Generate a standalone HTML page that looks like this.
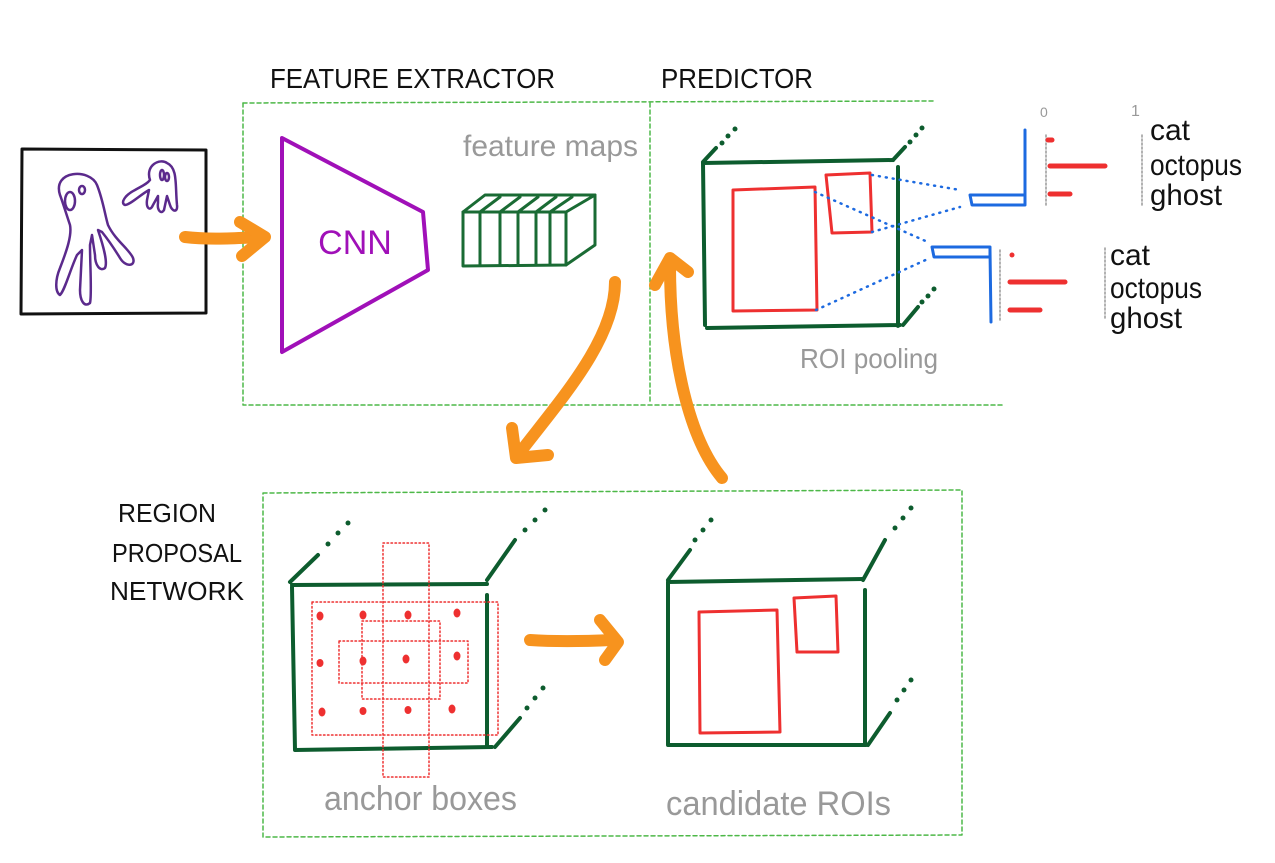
<!DOCTYPE html>
<html><head><meta charset="utf-8"><style>
html,body{margin:0;padding:0;background:#fff}
svg{display:block}
text{font-family:"Liberation Sans Narrow","Liberation Sans",sans-serif}
</style></head><body>
<svg width="1275" height="863" viewBox="0 0 1275 863" xmlns="http://www.w3.org/2000/svg">
<g fill="none" stroke-linecap="round" stroke-linejoin="round">
<!-- dashed boxes -->
<g stroke="#4db848" stroke-width="1.5" stroke-dasharray="4,3">
<path d="M243 103 L935 101"/>
<path d="M243 103 L243 405 L1005 405"/>
<path d="M650 103 L650 403"/>
<path d="M263 493 L962 490 L962 835 L263 837 Z"/>
</g>
<!-- input image -->
<path d="M22 149 L206 150 L206 313 L21 314 Z" stroke="#111" stroke-width="3"/>
<g stroke="#5b2a8c" stroke-width="2.5">
<path d="M60 195 C52 170 90 168 97 185 C103 200 105 215 108 225 C115 240 130 250 133 258 C136 266 126 268 120 258 C112 245 106 237 102 232 L98 230 C103 245 108 262 105 268 C100 272 95 265 95 255 L92 235 L90 245 C90 265 92 295 90 303 C84 308 80 300 80 290 L82 250 L77 255 C70 270 65 290 60 295 C55 292 55 280 60 268 C67 250 72 235 70 225 C65 210 62 200 60 195 Z"/>
<ellipse cx="70" cy="201" rx="5" ry="9"/>
<ellipse cx="82" cy="190" rx="3" ry="4"/>
<path d="M150 180 C145 165 160 158 167 163 C178 168 175 185 177 205 C178 213 172 212 170 205 L167 196 L164 210 C161 215 157 210 158 203 L158 196 L153 205 C150 212 146 208 147 200 L149 190 C140 195 130 205 125 205 C120 203 125 195 135 190 C142 186 147 184 150 180 Z"/>
<ellipse cx="162" cy="175" rx="2" ry="5"/>
<ellipse cx="167" cy="177" rx="2" ry="4"/>
</g>
<!-- orange arrows -->
<g stroke="#f7931e" stroke-width="12">
<path d="M185 237 C210 240 240 238 262 237"/>
<path d="M240 222 L265 237 L242 256"/>
<path d="M615 282 C615 340 560 400 518 455"/>
<path d="M512 428 L516 458 L548 455"/>
<path d="M722 478 C690 440 670 360 670 265"/>
<path d="M655 285 L670 258 L688 272"/>
<path d="M530 640 C560 642 590 641 612 640"/>
<path d="M600 620 L618 642 L605 660"/>
</g>
<!-- CNN -->
<path d="M282 138 L423 212 L428 270 L282 352 Z" stroke="#a010b8" stroke-width="4"/>
<text x="355" y="254" font-size="34" fill="#a010b8" text-anchor="middle" stroke="none">CNN</text>
<!-- feature map cuboid -->
<g stroke="#1a6b34" stroke-width="3">
<path d="M463 212 L566 212 L566 265 L463 266 Z"/>
<path d="M463 212 L485 195 L595 195 L566 212"/>
<path d="M595 195 L595 245 L566 265"/>
<path d="M480 212 L480 265 M500 212 L500 265 M518 212 L518 265 M536 212 L536 265 M550 212 L550 265"/>
<path d="M480 212 L500 197 M500 212 L520 197 M518 212 L538 197 M536 212 L556 197 M550 212 L572 197"/>
</g>
<!-- predictor cube -->
<g stroke="#0d5c2e" stroke-width="4">
<path d="M703 163 L893 160 M703 163 L705 325 L703 163 M707 328 L900 325 M898 167 L898 326"/>
<path d="M703 162 L716 148 M893 160 L905 147 M903 325 L918 307"/>
</g>
<g fill="#0d5c2e" stroke="none">
<circle cx="722" cy="143" r="2.5"/><circle cx="728" cy="136" r="2.5"/><circle cx="735" cy="129" r="2.5"/>
<circle cx="910" cy="142" r="2.5"/><circle cx="916" cy="135" r="2.5"/><circle cx="922" cy="128" r="2.5"/>
<circle cx="922" cy="302" r="2.5"/><circle cx="928" cy="296" r="2.5"/><circle cx="934" cy="289" r="2.5"/>
</g>
<g stroke="#ee3030" stroke-width="3">
<path d="M733 190 L815 187 L817 310 L733 311 Z"/>
<path d="M826 175 L870 173 L872 232 L832 233 Z"/>
</g>
<g stroke="#1d6ae0" stroke-width="2.5" stroke-dasharray="1,6">
<path d="M872 175 L960 190"/>
<path d="M815 192 L930 243"/>
<path d="M872 232 L960 207"/>
<path d="M816 310 L930 258"/>
</g>
<g stroke="#1d6ae0" stroke-width="3">
<path d="M970 195 L1025 195 L1025 205 L972 205 Z M1025 130 L1025 205"/>
<path d="M932 247 L990 247 L990 257 L934 257 Z M990 250 L991 322"/>
</g>
<g stroke="#999" stroke-width="1.5" stroke-dasharray="2,2">
<path d="M1046 135 L1046 207 M1000 250 L1000 320 M1142 135 L1142 207 M1105 248 L1105 320"/>
</g>
<g stroke="#ee3030" stroke-width="5">
<path d="M1048 140 L1052 140 M1050 166 L1105 166 M1050 194 L1070 194 M1010 282 L1065 282 M1010 310 L1040 310"/>
</g>
<circle cx="1012" cy="255" r="2.5" fill="#ee3030" stroke="none"/>
<!-- RPN cubes -->
<g stroke="#0d5c2e" stroke-width="4">
<path d="M292 585 L487 584 M292 587 L295 750 L492 747 M487 595 L487 747"/>
<path d="M290 582 L318 555 M487 580 L515 540 M495 747 L520 718"/>
<path d="M668 582 L863 579 M668 582 L668 745 L866 745 M865 590 L865 745"/>
<path d="M668 580 L690 550 M863 580 L885 540 M868 745 L890 713"/>
</g>
<g fill="#0d5c2e" stroke="none">
<circle cx="328" cy="544" r="2.5"/><circle cx="338" cy="533" r="2.5"/><circle cx="348" cy="523" r="2.5"/>
<circle cx="525" cy="530" r="2.5"/><circle cx="535" cy="520" r="2.5"/><circle cx="545" cy="510" r="2.5"/>
<circle cx="527" cy="708" r="2.5"/><circle cx="535" cy="698" r="2.5"/><circle cx="543" cy="688" r="2.5"/>
<circle cx="695" cy="540" r="2.5"/><circle cx="703" cy="530" r="2.5"/><circle cx="711" cy="520" r="2.5"/>
<circle cx="895" cy="528" r="2.5"/><circle cx="903" cy="518" r="2.5"/><circle cx="911" cy="508" r="2.5"/>
<circle cx="897" cy="700" r="2.5"/><circle cx="904" cy="690" r="2.5"/><circle cx="911" cy="680" r="2.5"/>
</g>
<g stroke="#ee3030" stroke-width="1.5" stroke-dasharray="1.5,2.5">
<rect x="312" y="602" width="186" height="133"/>
<rect x="383" y="543" width="46" height="234"/>
<rect x="339" y="641" width="129" height="42"/>
<rect x="362" y="621" width="78" height="78"/>
</g>
<g fill="#ee3030" stroke="none">
<ellipse cx="320" cy="616" rx="3.5" ry="4.5"/><ellipse cx="363" cy="615" rx="3.5" ry="4.5"/><ellipse cx="408" cy="615" rx="3.5" ry="4.5"/><ellipse cx="457" cy="613" rx="3.5" ry="4.5"/>
<ellipse cx="320" cy="663" rx="3.5" ry="4"/><ellipse cx="363" cy="661" rx="3.5" ry="4.5"/><ellipse cx="406" cy="659" rx="3.5" ry="4.5"/><ellipse cx="457" cy="656" rx="3.5" ry="4.5"/>
<ellipse cx="322" cy="712" rx="3.5" ry="4.5"/><ellipse cx="363" cy="711" rx="3.5" ry="4"/><ellipse cx="408" cy="710" rx="3.5" ry="4"/><ellipse cx="452" cy="709" rx="3.5" ry="4.5"/>
</g>
<g stroke="#ee3030" stroke-width="3">
<path d="M699 612 L777 610 L780 732 L700 733 Z"/>
<path d="M794 598 L836 596 L838 652 L797 652 Z"/>
</g>
</g>
<!-- labels -->
<g stroke="none">
<text x="270" y="88" font-size="28" fill="#111" textLength="285" lengthAdjust="spacingAndGlyphs">FEATURE  EXTRACTOR</text>
<text x="661" y="88" font-size="28" fill="#111" textLength="152" lengthAdjust="spacingAndGlyphs">PREDICTOR</text>
<text x="463" y="156" font-size="30" fill="#999" textLength="175" lengthAdjust="spacingAndGlyphs">feature maps</text>
<text x="800" y="368" font-size="28" fill="#999" textLength="138" lengthAdjust="spacingAndGlyphs">ROI pooling</text>
<text x="1040" y="117" font-size="14" fill="#999">0</text>
<text x="1131" y="116" font-size="16" fill="#999">1</text>
<g font-size="30" fill="#111">
<text x="1150" y="140">cat</text>
<text x="1150" y="175" textLength="92" lengthAdjust="spacingAndGlyphs">octopus</text>
<text x="1150" y="205" textLength="72" lengthAdjust="spacingAndGlyphs">ghost</text>
<text x="1110" y="265">cat</text>
<text x="1110" y="298" textLength="92" lengthAdjust="spacingAndGlyphs">octopus</text>
<text x="1110" y="328" textLength="72" lengthAdjust="spacingAndGlyphs">ghost</text>
</g>
<g font-size="26" fill="#111">
<text x="118" y="522" textLength="98" lengthAdjust="spacingAndGlyphs">REGION</text>
<text x="112" y="562" textLength="130" lengthAdjust="spacingAndGlyphs">PROPOSAL</text>
<text x="110" y="600" textLength="134" lengthAdjust="spacingAndGlyphs">NETWORK</text>
</g>
<text x="324" y="810" font-size="34" fill="#999" textLength="193" lengthAdjust="spacingAndGlyphs">anchor boxes</text>
<text x="666" y="815" font-size="34" fill="#999" textLength="225" lengthAdjust="spacingAndGlyphs">candidate ROIs</text>
</g>
</svg>
</body></html>
